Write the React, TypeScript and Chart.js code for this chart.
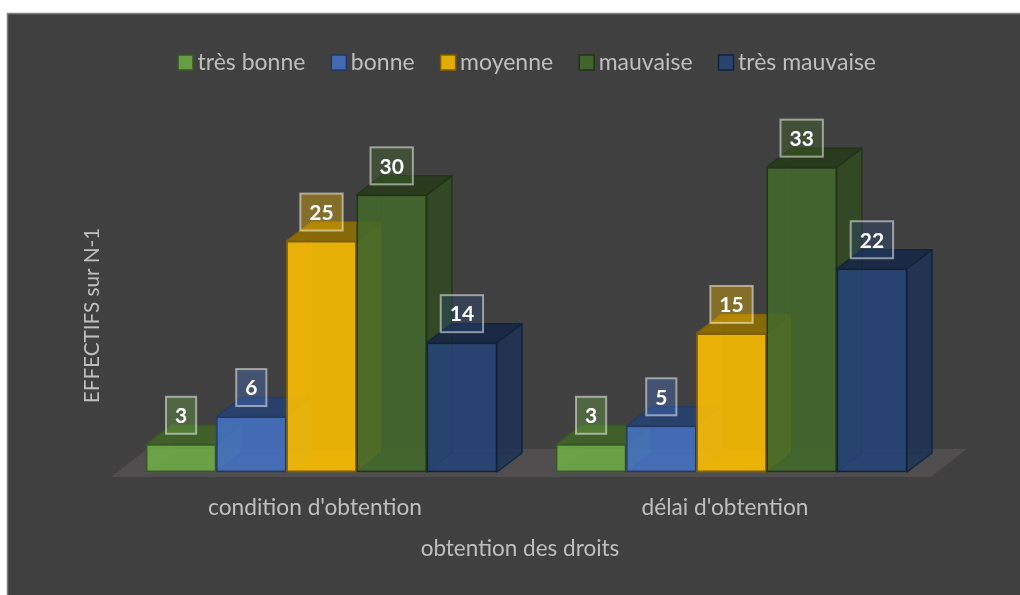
import React, { useEffect, useRef } from "react";
import { Chart, registerables } from "chart.js";

Chart.register(...registerables);

const categories = ["condition d'obtention", "délai d'obtention"];
const seriesNames = ["très bonne", "bonne", "moyenne", "mauvaise", "très mauvaise"];
const tresBonne = [3, 3];
const bonne = [6, 5];
const moyenne = [25, 15];
const mauvaise = [30, 33];
const tresMauvaise = [14, 22];
const seriesValues = [tresBonne, bonne, moyenne, mauvaise, tresMauvaise];
const seriesRgb = [
  [112, 173, 71],
  [68, 114, 196],
  [255, 192, 0],
  [67, 104, 43],
  [38, 68, 120],
];
const FONT = "Lato";
const TEXT = "#bfbfbf";
const DX = 25;
const DY = -19;

const rgba = (c: number[], f: number, a: number) =>
  `rgba(${Math.round(c[0] * f)},${Math.round(c[1] * f)},${Math.round(c[2] * f)},${a})`;

function poly(ctx: CanvasRenderingContext2D, pts: number[][], fill: string, stroke?: string, lw = 1.5) {
  ctx.beginPath();
  pts.forEach((p, i) => (i ? ctx.lineTo(p[0], p[1]) : ctx.moveTo(p[0], p[1])));
  ctx.closePath();
  ctx.fillStyle = fill;
  ctx.fill();
  if (stroke) {
    ctx.strokeStyle = stroke;
    ctx.lineWidth = lw;
    ctx.lineJoin = "round";
    ctx.stroke();
  }
}

const bars3d = {
  id: "bars3d",
  beforeDraw(chart: any) {
    const { ctx } = chart;
    ctx.save();
    ctx.fillStyle = "#ffffff";
    ctx.fillRect(0, 0, chart.width, chart.height);
    ctx.fillStyle = "#404040";
    ctx.fillRect(7, 13, 1013, 582);
    ctx.strokeStyle = "#7f7f7f";
    ctx.lineWidth = 1.5;
    ctx.beginPath();
    ctx.moveTo(7.5, 595);
    ctx.lineTo(7.5, 13.5);
    ctx.lineTo(1020, 13.5);
    ctx.stroke();
    ctx.restore();
  },
  afterLayout(chart: any) {
    // the reference's axis titles and legend sit off the plot's centre
    chart.scales.x.left -= 13;
    chart.scales.y.top += 75;
    chart.legend.left += 8;
  },
  beforeDatasetsDraw(chart: any) {
    const { ctx, scales } = chart;
    const base = scales.y.getPixelForValue(0);
    const { left, right } = chart.chartArea;
    ctx.save();
    poly(
      ctx,
      [
        [left - 5.5, base + 5],
        [right - 5.5, base + 5],
        [right + 30.5, base - 23],
        [left + 30.5, base - 23],
      ],
      "#4f4d4d"
    );
    seriesValues.forEach((_, i) => {
      const c = seriesRgb[i];
      const meta = chart.getDatasetMeta(i);
      meta.data.forEach((el: any) => {
        const { x, y, base: b, width } = el.getProps(["x", "y", "base", "width"], true);
        const l = x - width / 2;
        const r = x + width / 2;
        const edge = rgba(c, 0.6, 0.4);
        poly(ctx, [[l, b], [r, b], [r + DX, b + DY], [l + DX, b + DY]], rgba(c, 0.85, 0.3), edge, 1);
        poly(ctx, [[l, y], [l + DX, y + DY], [l + DX, b + DY], [l, b]], rgba(c, 0.9, 0.25), edge, 1);
        poly(ctx, [[l + DX, y + DY], [r + DX, y + DY], [r + DX, b + DY], [l + DX, b + DY]], rgba(c, 0.9, 0.2), edge, 1);
        el.draw(ctx, chart.chartArea);
        const solid = rgba(c, 0.5, 0.85);
        poly(ctx, [[r, y], [r + DX, y + DY], [r + DX, b + DY], [r, b]], rgba(c, 0.72, 0.75), solid);
        poly(ctx, [[l, y], [r, y], [r + DX, y + DY], [l + DX, y + DY]], rgba(c, 0.56, 0.85), solid);
      });
    });
    ctx.restore();
  },
  beforeDatasetDraw() {
    return false;
  },
  afterDatasetsDraw(chart: any) {
    const { ctx } = chart;
    ctx.save();
    ctx.font = `bold 21px ${FONT}`;
    ctx.textAlign = "center";
    ctx.textBaseline = "middle";
    seriesValues.forEach((vals, i) => {
      const c = seriesRgb[i];
      chart.getDatasetMeta(i).data.forEach((el: any, j: number) => {
        const { x, y } = el.getProps(["x", "y"], true);
        const txt = String(vals[j]);
        const w = ctx.measureText(txt).width + 18;
        const h = 37;
        const cy = y - 29;
        ctx.fillStyle = rgba(c, 1, 0.36);
        ctx.fillRect(x - w / 2, cy - h / 2, w, h);
        ctx.strokeStyle = "rgba(255,255,255,0.5)";
        ctx.lineWidth = 2;
        ctx.strokeRect(x - w / 2, cy - h / 2, w, h);
        ctx.fillStyle = "#ffffff";
        ctx.fillText(txt, x, cy + 1);
      });
    });
    ctx.restore();
  },
};

export default function App() {
  const ref = useRef<HTMLCanvasElement>(null);
  useEffect(() => {
    const chart = new Chart(ref.current as HTMLCanvasElement, {
      type: "bar",
      data: {
        labels: categories,
        datasets: seriesNames.map((name, i) => ({
          label: name,
          data: seriesValues[i],
          backgroundColor: rgba(seriesRgb[i], 1, 0.85),
          borderColor: rgba(seriesRgb[i], 0.5, 1),
          borderWidth: 1.5,
          borderSkipped: false,
          categoryPercentage: 351 / 410,
          barPercentage: 1,
        })),
      },
      options: {
        responsive: false,
        animation: false,
        layout: { padding: { left: 70, right: 83.5, top: 18, bottom: 33 } },
        plugins: {
          tooltip: { enabled: false },
          legend: {
            position: "top",
            fullSize: false,
            labels: {
              color: TEXT,
              font: { family: FONT, size: 23 },
              usePointStyle: true,
              pointStyle: "rect",
              boxWidth: 1,
              boxHeight: 15,
              padding: 33,
            },
          },
        },
        scales: {
          x: {
            grid: { display: false },
            border: { display: false },
            ticks: { color: TEXT, font: { family: FONT, size: 22.7 }, padding: 14.5, labelOffset: -6.5, maxRotation: 0 },
            afterFit(scale: any) {
              scale.height = 90;
            },
            title: {
              display: true,
              text: "obtention des droits",
              color: TEXT,
              font: { family: FONT, size: 22.5 },
              padding: { top: 0, bottom: 0 },
            },
          },
          y: {
            min: 0,
            max: 42,
            grid: { display: false },
            border: { display: false },
            ticks: { display: false },
            afterFit(scale: any) {
              scale.width = 46.5;
            },
            title: {
              display: true,
              text: "EFFECTIFS sur N-1",
              color: TEXT,
              font: { family: FONT, size: 20.7 },
              padding: { top: 9.6, bottom: 0 },
            },
          },
        },
      },
      plugins: [bars3d],
    } as any);
    return () => chart.destroy();
  }, []);
  return (
    <canvas
      ref={ref}
      width={1020}
      height={595}
      style={{ position: "fixed", left: 0, top: 0, width: 1020, height: 595, display: "block" }}
    />
  );
}
